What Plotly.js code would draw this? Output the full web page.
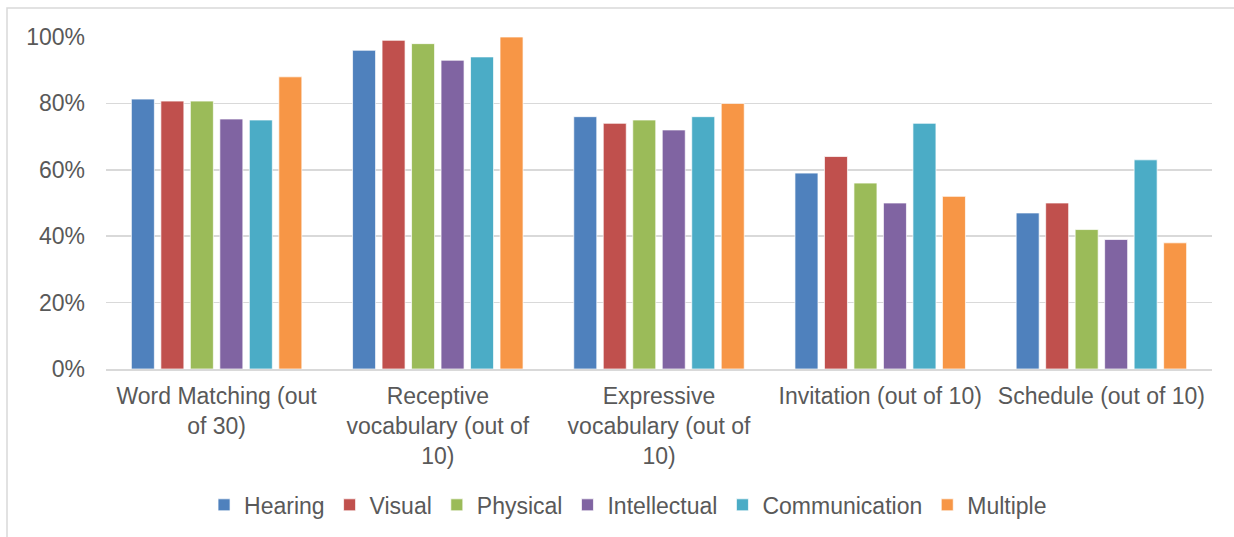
<!DOCTYPE html>
<html>
<head>
<meta charset="utf-8">
<script src="https://cdn.plot.ly/plotly-3.0.1.min.js"></script>
<style>
  html, body { margin: 0; padding: 0; background: #fff; }
  #chart { width: 1234px; height: 537px; }
</style>
</head>
<body>
<div id="chart"></div>
<script>
const categories = [
  "Word Matching (out<br>of 30)",
  "Receptive<br>vocabulary (out of<br>10)",
  "Expressive<br>vocabulary (out of<br>10)",
  "Invitation (out of 10)",
  "Schedule (out of 10)"
];
const seriesNames = ["Hearing", "Visual", "Physical", "Intellectual", "Communication", "Multiple"];
const hearing       = [0.813, 0.96, 0.76, 0.59, 0.47];
const visual        = [0.807, 0.99, 0.74, 0.64, 0.50];
const physical      = [0.807, 0.98, 0.75, 0.56, 0.42];
const intellectual  = [0.753, 0.93, 0.72, 0.50, 0.39];
const communication = [0.75, 0.94, 0.76, 0.74, 0.63];
const multiple      = [0.88, 1.00, 0.80, 0.52, 0.38];
const seriesValues = [hearing, visual, physical, intellectual, communication, multiple];
const colors = ["#4F81BD", "#C0504D", "#9BBB59", "#8064A2", "#4BACC6", "#F79646"];
const yTickVals = [0, 0.2, 0.4, 0.6, 0.8, 1.0];
const yTickText = ["0%", "20%", "40%", "60%", "80%", "100%"];

const traces = seriesNames.map((name, i) => ({
  type: "bar",
  name: name,
  x: categories,
  y: seriesValues[i],
  marker: { color: colors[i], line: { color: "rgba(255,255,255,0.7)", width: 1 } },
  hoverinfo: "skip"
}));

const FS = 23;
const layout = {
  width: 1234,
  height: 537,
  margin: { l: 106, r: 22, t: 37, b: 167 },
  paper_bgcolor: "rgba(0,0,0,0)",
  plot_bgcolor: "rgba(0,0,0,0)",
  font: { family: "Liberation Sans, Arial, sans-serif", size: FS, color: "#595959" },
  barmode: "group",
  bargap: 0.2,
  bargroupgap: 0.22,
  showlegend: true,
  legend: {
    orientation: "h",
    x: 0.472, xanchor: "center",
    y: -0.405, yanchor: "middle",
    font: { size: FS, color: "#595959" },
    itemclick: false
  },
  xaxis: {
    type: "category",
    showgrid: false,
    showline: true,
    linecolor: "#D9D9D9",
    linewidth: 1.5,
    ticks: "",
    tickangle: 0,
    ticklabelstandoff: 6,
    tickfont: { size: FS, color: "#595959" }
  },
  yaxis: {
    range: [0, 1.0],
    tickvals: yTickVals,
    ticktext: yTickText,
    showgrid: true,
    gridcolor: "#D9D9D9",
    gridwidth: 1.5,
    zeroline: false,
    showline: false,
    ticks: "",
    ticklabelstandoff: 20,
    tickfont: { size: FS, color: "#595959" }
  },
  shapes: [{
    type: "rect",
    xref: "paper", yref: "paper",
    x0: (7 - 106) / 1106, x1: 1.2,
    y0: -1.0, y1: (370 - 8) / 333,
    line: { color: "#D9D9D9", width: 1.5 },
    fillcolor: "rgba(0,0,0,0)",
    layer: "below"
  }]
};

Plotly.newPlot("chart", traces, layout, { displayModeBar: false, staticPlot: true });
</script>
</body>
</html>
